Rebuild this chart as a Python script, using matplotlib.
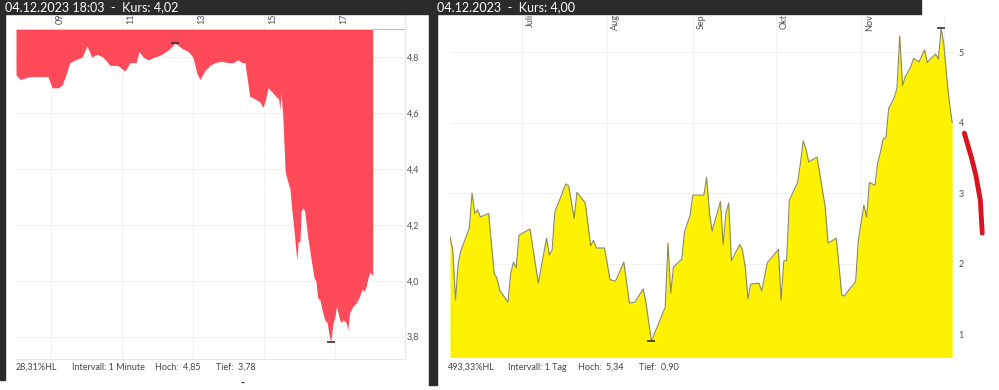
import numpy as np
import matplotlib
matplotlib.use("Agg")
import matplotlib.pyplot as plt
import matplotlib.transforms as mtransforms
from matplotlib.patches import Rectangle
from matplotlib.ticker import FuncFormatter

plt.rcParams['font.family'] = ['Lato', 'DejaVu Sans']

# left chart: 04.12.2023, intervall 1 minute
zeit = ["08:00", "08:07", "08:24", "08:41", "08:54", "09:01", "09:11", "09:18", "09:25", "09:31",
        "09:40", "09:52", "10:00", "10:08", "10:17", "10:27", "10:39", "10:52", "11:04", "11:13",
        "11:23", "11:28", "11:35", "11:43", "11:55", "12:07", "12:20", "12:29", "12:41", "12:51",
        "12:59", "13:06", "13:11", "13:19", "13:28", "13:36", "13:48", "13:58", "14:07", "14:15",
        "14:22", "14:27", "14:35", "14:44", "14:52", "14:57", "15:01", "15:06", "15:13", "15:19",
        "15:24", "15:26", "15:28", "15:31", "15:35", "15:40", "15:43", "15:46", "15:50", "15:53",
        "15:55", "15:57", "16:00", "16:02", "16:05", "16:08", "16:13", "16:19", "16:24", "16:27",
        "16:30", "16:34", "16:37", "16:42", "16:46", "16:49", "16:52", "16:56", "16:59", "17:02",
        "17:06", "17:09", "17:13", "17:18", "17:21", "17:24", "17:30", "17:35", "17:40", "17:45",
        "17:48", "17:52", "17:55", "17:58", "18:03"]
kurs = [4.736, 4.72, 4.73, 4.73, 4.73, 4.69, 4.69, 4.70, 4.74, 4.78,
        4.79, 4.80, 4.84, 4.80, 4.81, 4.80, 4.77, 4.77, 4.75, 4.78,
        4.78, 4.82, 4.80, 4.79, 4.80, 4.81, 4.83, 4.85, 4.83, 4.82,
        4.80, 4.74, 4.72, 4.75, 4.77, 4.78, 4.785, 4.78, 4.78, 4.79,
        4.78, 4.78, 4.66, 4.65, 4.64, 4.62, 4.64, 4.69, 4.675, 4.66,
        4.65, 4.61, 4.67, 4.59, 4.39, 4.35, 4.33, 4.26, 4.18, 4.11,
        4.075, 4.14, 4.14, 4.25, 4.26, 4.25, 4.16, 4.075, 4.01, 4.00,
        3.94, 3.93, 3.90, 3.86, 3.85, 3.81, 3.78, 3.85, 3.87, 3.91,
        3.87, 3.85, 3.86, 3.85, 3.825, 3.885, 3.91, 3.92, 3.94, 3.97,
        3.96, 3.98, 4.01, 4.03, 4.02]
kurs_oben = 4.9
stunden_ticks = [9, 11, 13, 15, 17]
stunden_labels = ["09", "11", "13", "15", "17"]
kurs_ticks = [3.8, 4.0, 4.2, 4.4, 4.6, 4.8]

# right chart: intervall 1 Tag, days counted from 01.07.2023
tage = [-26, -25, -24, -23, -22, -19, -18, -17, -16, -15, -12, -10, -9, -8, -5, -4, -3, -2, -1,
        3, 6, 9, 10, 11, 12, 16, 17, 19, 20, 23, 25, 26, 27, 30,
        32, 34, 37, 39, 41, 44, 45, 47, 52, 53, 54, 55, 58, 59, 61,
        62, 66, 67, 68, 69, 72, 73, 74, 75, 76, 79, 80, 81, 82, 83, 86, 87, 89,
        93, 94, 95, 96, 97, 100, 101, 102, 103, 104, 107, 108, 110, 111, 114, 116, 117, 119, 121, 122,
        124, 125, 126, 128, 129, 130, 131, 132, 133, 135, 136, 137, 138, 139, 141, 142, 144, 146,
        147, 148, 150, 151, 152, 153, 154, 155, 156]
schluss = [2.38, 2.19, 1.48, 2.01, 2.19, 2.50, 3.00, 2.71, 2.76, 2.66, 2.71, 1.86, 1.79, 1.62, 1.45, 1.86, 2.02, 1.94, 2.40,
           2.49, 1.72, 2.36, 2.12, 2.19, 2.73, 3.13, 3.10, 2.64, 3.01, 2.86, 2.25, 2.33, 2.22, 2.22,
           1.77, 1.75, 2.02, 1.44, 1.45, 1.64, 1.45, 0.90, 1.38, 2.29, 1.58, 1.95, 2.06, 2.45, 2.68,
           2.97, 2.97, 3.22, 2.73, 2.46, 2.88, 2.27, 2.71, 2.86, 2.04, 2.27, 2.19, 1.95, 1.50, 1.71, 1.72, 1.61, 2.01,
           2.20, 1.48, 2.04, 2.04, 2.90, 3.15, 3.42, 3.74, 3.63, 3.44, 3.51, 3.28, 2.80, 2.29, 2.36, 1.55, 1.54, 1.65, 1.74, 2.33,
           2.83, 2.66, 3.15, 3.11, 3.42, 3.58, 3.77, 3.78, 4.20, 4.35, 4.49, 5.23, 4.52, 4.65, 4.79, 4.91, 4.86, 5.03,
           4.85, 4.90, 4.97, 4.90, 5.34, 5.10, 4.65, 4.28, 4.00]
monat_tage = [0, 31, 62, 92, 123, 153]
monat_labels = ["Juli", "Aug", "Sep", "Okt", "Nov", ""]
schluss_ticks = [1, 2, 3, 4, 5]

# red hand drawn stroke next to the right scale
strich_tage = [160.4, 163.0, 164.6, 166.2, 166.9]
strich_kurs = [3.85, 3.50, 3.25, 2.90, 2.43]

W, H = 999, 390
def fx(p):
    return p / W
def fy(p):
    return 1 - p / H

dunkel = '#2b2b2b'
grau = '#505050'
gitter = '#f1f1f1'
komma = FuncFormatter(lambda v, _: f"{v:.1f}".replace('.', ','))

fig = plt.figure(figsize=(W / 100, H / 100), dpi=100)

# dark frame bits
for x0, y0, x1, y1 in [(0, 0, 921, 14), (0, 0, 5, 380), (429, 0, 437, 385)]:
    fig.patches.append(Rectangle((fx(x0), fy(y1)), fx(x1) - fx(x0), fy(y0) - fy(y1),
                                 transform=fig.transFigure, color=dunkel, zorder=0))

stunden = np.array([int(z[:2]) + int(z[3:]) / 60 for z in zeit])
kurs = np.array(kurs)

ax1 = fig.add_axes([fx(16), fy(359), fx(405) - fx(16), fy(14) - fy(359)])
ax1.fill_between(stunden, kurs, kurs_oben, color='#ff4a5a', lw=0, zorder=2)
ax1.hlines(kurs_oben, stunden[-1], 19, color='#f2a3aa', lw=0.8, zorder=2)
ax1.set_xlim(8, 18.96)
ax1.set_ylim(3.72, 4.954)
ax1.set_xticks(stunden_ticks)
ax1.set_yticks(kurs_ticks)
ax1.yaxis.tick_right()
ax1.yaxis.set_major_formatter(komma)
ax1.tick_params(axis='x', length=0, labelbottom=False)
ax1.tick_params(axis='y', length=0, pad=1.5, labelsize=6.5, labelcolor=grau)
ax1.grid(True, color=gitter, lw=0.8, zorder=0)
for s in ax1.spines.values():
    s.set_visible(False)
ax1.spines['right'].set_visible(True)
ax1.spines['right'].set_color('#e8e8e8')
ax1.spines['bottom'].set_visible(True)
ax1.spines['bottom'].set_color('#e8e8e8')
tr1 = mtransforms.blended_transform_factory(ax1.transData, ax1.transAxes)
tr1 = tr1 + mtransforms.ScaledTranslation(3 / 72, 0, fig.dpi_scale_trans)
for t, l in zip(stunden_ticks, stunden_labels):
    ax1.text(t, 1, l, transform=tr1, rotation=90, ha='left', va='top', fontsize=6.5, color=grau)
i_hoch, i_tief = np.argmax(kurs), np.argmin(kurs)
ax1.plot(stunden[i_hoch], kurs[i_hoch], marker='_', ms=6, mew=1.2, color='#333333', zorder=3)
ax1.plot(stunden[i_tief], kurs[i_tief], marker='_', ms=6, mew=1.2, color='#333333', zorder=3)

tage = np.array(tage)
schluss = np.array(schluss)
ax2 = fig.add_axes([fx(450), fy(357), fx(953) - fx(450), fy(14) - fy(357)])
ax2.fill_between(tage, schluss, 0, color='#fff200', lw=0, zorder=2)
ax2.plot(tage, schluss, color='#8a8a5c', lw=0.8, zorder=3)
ax2.set_xlim(tage[0], tage[-1] + 0.3)
ax2.set_ylim(0.674, 5.539)
ax2.set_xticks(monat_tage)
ax2.set_yticks(schluss_ticks)
ax2.yaxis.tick_right()
ax2.tick_params(axis='x', length=0, labelbottom=False)
ax2.tick_params(axis='y', length=0, pad=4, labelsize=6.5, labelcolor=grau)
ax2.grid(True, color=gitter, lw=0.8, zorder=0)
for s in ax2.spines.values():
    s.set_visible(False)
tr2 = mtransforms.blended_transform_factory(ax2.transData, ax2.transAxes)
tr2 = tr2 + mtransforms.ScaledTranslation(3 / 72, 0, fig.dpi_scale_trans)
for t, l in zip(monat_tage, monat_labels):
    ax2.text(t, 1, l, transform=tr2, rotation=90, ha='left', va='top', fontsize=6.5, color=grau)
j_hoch, j_tief = np.argmax(schluss), np.argmin(schluss)
ax2.plot(tage[j_hoch], schluss[j_hoch], marker='_', ms=6, mew=1.2, color='#333333', zorder=4)
ax2.plot(tage[j_tief], schluss[j_tief], marker='_', ms=6, mew=1.2, color='#333333', zorder=4)
ax2.plot(strich_tage, strich_kurs, color='#d9141e', lw=3.5, solid_capstyle='round', clip_on=False, zorder=5)

def k2(v):
    return f"{v:.2f}".replace('.', ',')

# titles
fig.text(fx(5), fy(7), f"04.12.2023 18:03  -  Kurs: {k2(kurs[-1])}", color='white', fontsize=9, va='center')
fig.text(fx(437), fy(7), f"04.12.2023  -  Kurs: {k2(schluss[-1])}", color='white', fontsize=9, va='center')

# footer lines
hl1 = (kurs.max() - kurs.min()) / kurs.min() * 100
hl2 = (schluss.max() - schluss.min()) / schluss.min() * 100
for x, s in [(16, f"{k2(hl1)}%HL"), (72, "Intervall: 1 Minute"), (155, f"Hoch:  {k2(kurs.max())}"),
             (216, f"Tief:  {k2(kurs.min())}"),
             (448, f"{k2(hl2)}%HL"), (508, "Intervall: 1 Tag"), (578, f"Hoch:  {k2(schluss.max())}"),
             (639, f"Tief:  {k2(schluss.min())}")]:
    fig.text(fx(x), fy(367), s, fontsize=6.5, color='#444444', va='center')
fig.text(fx(240), fy(383), "-", fontsize=8, fontweight='bold', color='#222222', va='center')

fig.savefig("out.png", dpi=100)
